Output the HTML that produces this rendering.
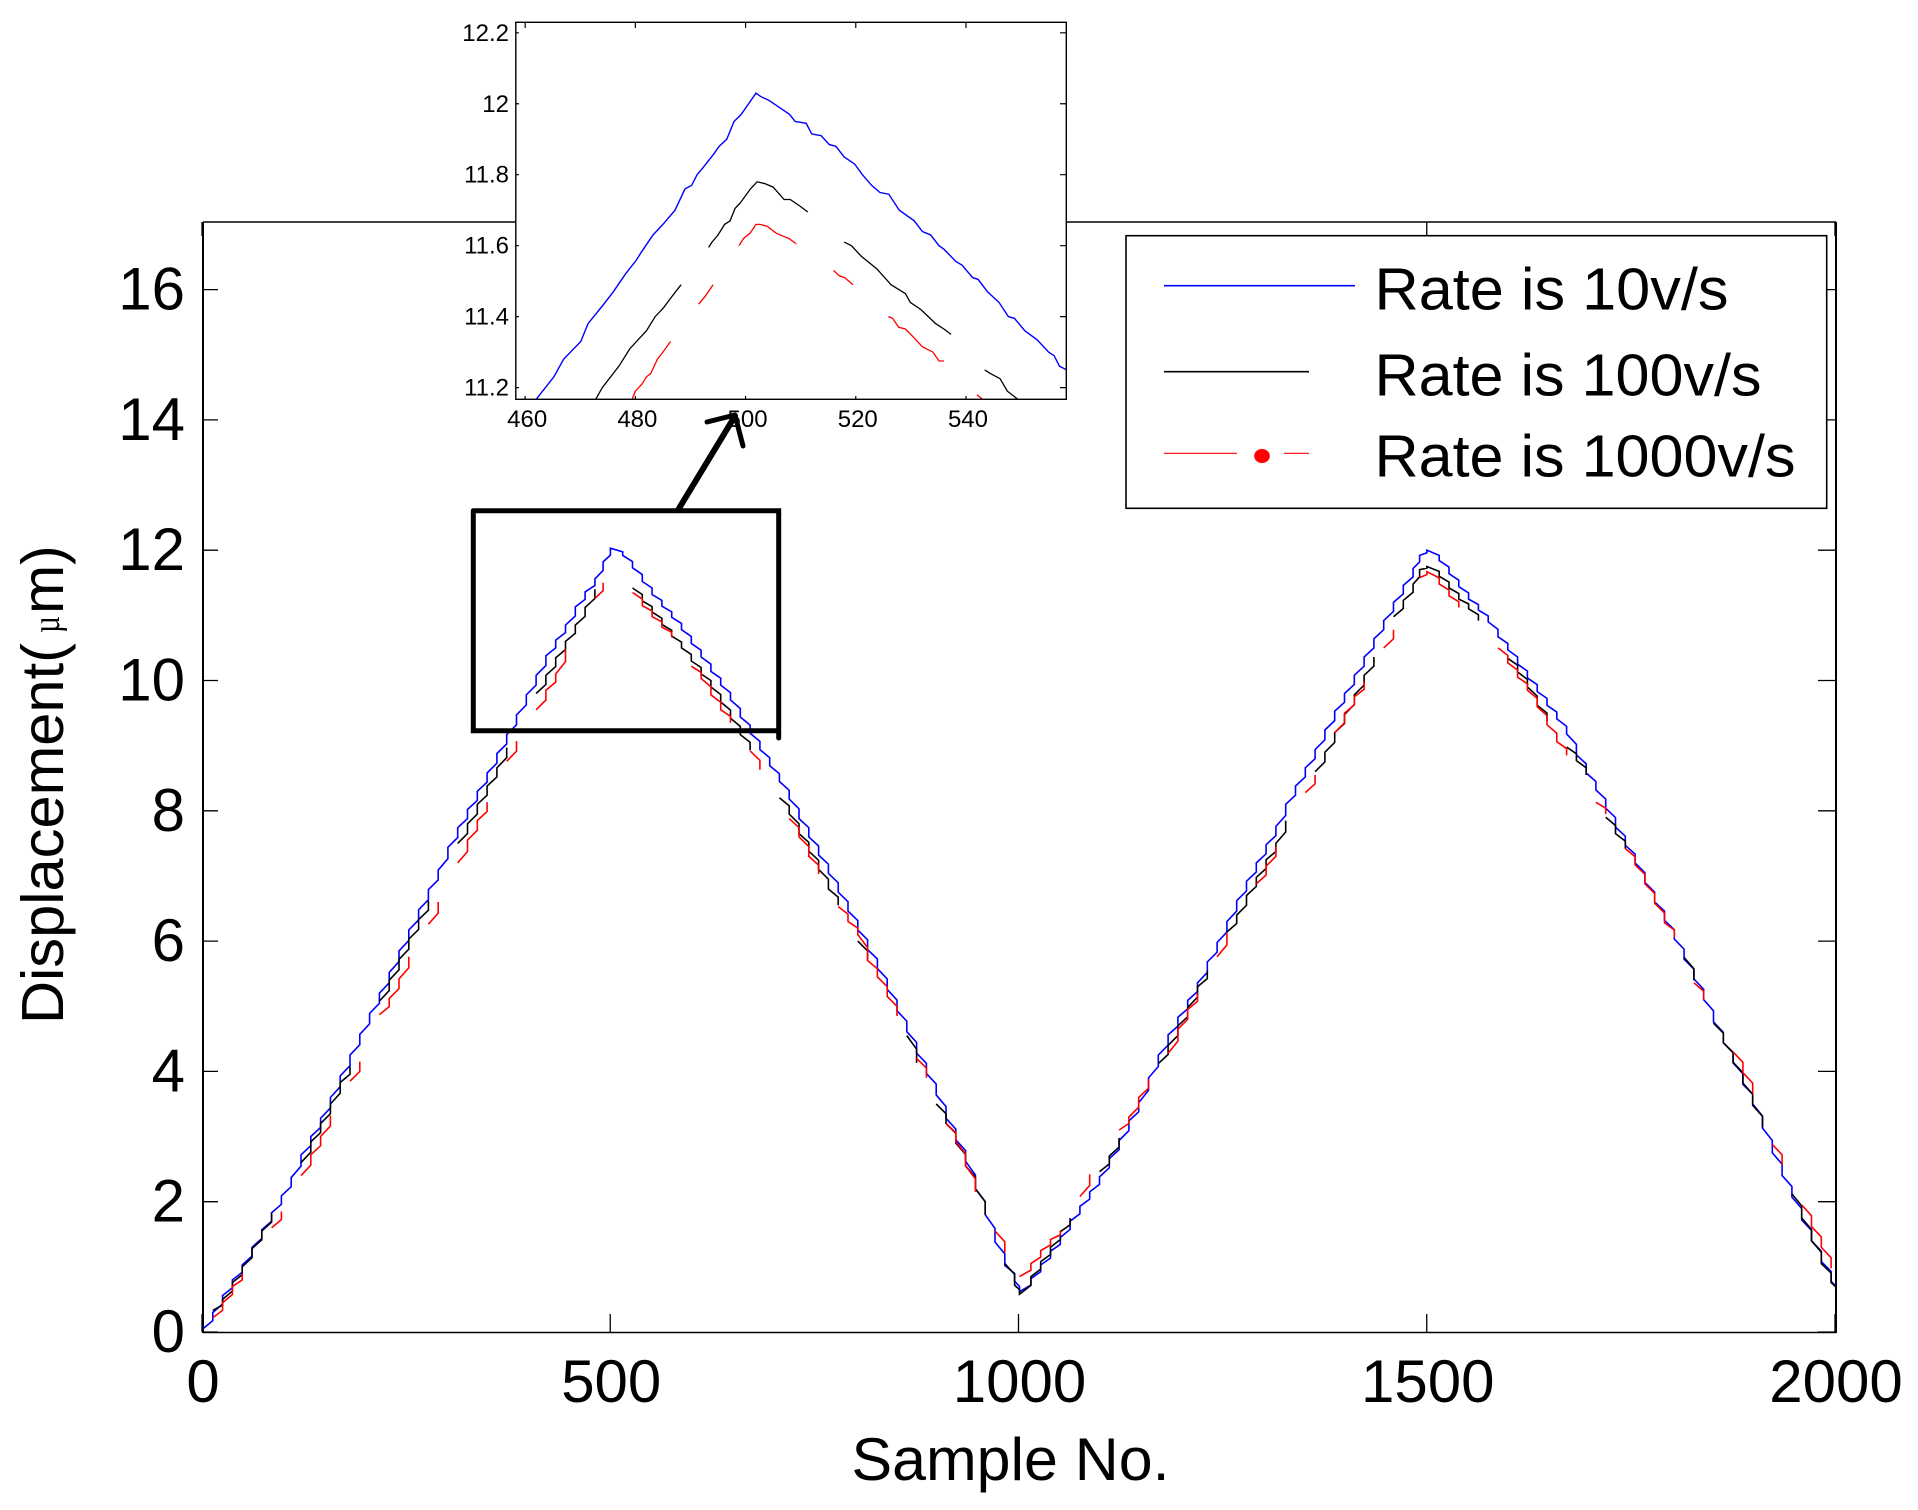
<!DOCTYPE html>
<html lang="en">
<head>
<meta charset="utf-8">
<title>Displacement vs Sample No.</title>
<style>
html,body{margin:0;padding:0;background:#fff;}
svg{display:block;}
text{font-family:"Liberation Sans",sans-serif;fill:#000;}
</style>
</head>
<body>
<svg id="chart" xmlns="http://www.w3.org/2000/svg" width="1918" height="1510" viewBox="0 0 1918 1510">
  <defs>
    <clipPath id="main-clip"><rect x="203" y="222" width="1633" height="1111"/></clipPath>
    <clipPath id="inset-clip"><rect x="515.8" y="22.3" width="551" height="377"/></clipPath>
  </defs>
  <rect x="0" y="0" width="1918" height="1510" fill="#fff"/>
  <g id="main-axes"></g>
  <g id="main-series" clip-path="url(#main-clip)"></g>
  <path d="M473.3 510.7H778.7V738M473.3 510.7V730.7H778.7" fill="none" stroke="#000" stroke-width="5" stroke-linecap="round"/>
  <text x="851.5" y="1480" font-size="60" textLength="318" lengthAdjust="spacingAndGlyphs">Sample No.</text>
  <text transform="translate(63,1024) rotate(-90)" font-size="59"><tspan x="0" y="0" textLength="381" lengthAdjust="spacingAndGlyphs">Displacement(</tspan><tspan x="391" y="-4" font-size="38" textLength="17" lengthAdjust="spacingAndGlyphs" style="font-family:'Liberation Serif',serif">µ</tspan><tspan x="410" y="0">m</tspan><tspan x="459" y="0">)</tspan></text>

  <g id="inset">
    <rect x="515.8" y="22.3" width="550.5" height="377" fill="#fff"/>
    <g id="inset-series" clip-path="url(#inset-clip)"></g>
    <g id="inset-axes"></g>
  </g>

  <g>
    <rect x="1126" y="235.7" width="700.7" height="272.6" fill="#fff" stroke="#000" stroke-width="1.6"/>
    <line x1="1164" y1="285.7" x2="1355" y2="285.7" stroke="#0000ff" stroke-width="1.6"/>
    <text x="1374.5" y="309.3" font-size="59" textLength="354" lengthAdjust="spacingAndGlyphs">Rate is 10v/s</text>
    <line x1="1164" y1="371.7" x2="1309" y2="371.7" stroke="#000" stroke-width="1.6"/>
    <text x="1374.5" y="395.7" font-size="59" textLength="387" lengthAdjust="spacingAndGlyphs">Rate is 100v/s</text>
    <line x1="1164" y1="453.3" x2="1237" y2="453.3" stroke="#ff0000" stroke-width="1.2"/>
    <ellipse cx="1262" cy="456" rx="7.8" ry="7" fill="#ff0000"/>
    <line x1="1284" y1="453.3" x2="1309" y2="453.3" stroke="#ff0000" stroke-width="1.2"/>
    <text x="1374.5" y="476.7" font-size="59" textLength="421" lengthAdjust="spacingAndGlyphs">Rate is 1000v/s</text>
  </g>

  <g fill="none" stroke="#000" stroke-linecap="round" stroke-linejoin="round">
    <line x1="678" y1="510" x2="735" y2="416" stroke-width="6"/>
    <path d="M707 422L735 415L743 446" stroke-width="5"/>
  </g>
</svg>

<script>
/* Main chart data */
const sampleNo = [
  0,12,24,36,48,60, 72,84,96,108,120,132, 144,156,168,180,192,204, 216,228,240,252,264,276, 288,300,312,324,336,348, 360,372,384,396,408,420, 432,444,456,468,480,490,
  499,514,526,538,550,562, 574,586,598,610,622,634, 646,658,670,682,694,706, 718,730,742,754,766,778, 790,802,814,826,838,850, 862,874,886,898,910,922, 934,946,958,970,982,994,
  1000,1014,1026,1038,1050,1062, 1074,1086,1098,1110,1122,1134, 1146,1158,1170,1182,1194,1206, 1218,1230,1242,1254,1266,1278, 1290,1302,1314,1326,1338,1350, 1362,1374,1386,1398,1410,1422, 1434,1446,1458,1470,1482,1490,
  1499,1514,1526,1538,1550,1562, 1574,1586,1598,1610,1622,1634, 1646,1658,1670,1682,1694,1706, 1718,1730,1742,1754,1766,1778, 1790,1802,1814,1826,1838,1850, 1862,1874,1886,1898,1910,1922, 1934,1946,1958,1970,1982,1994,
  2000
];
const rate10 = [
  0.05,0.3,0.56,0.8,1.03,1.3, 1.57,1.83,2.09,2.37,2.72,3.0, 3.28,3.6,3.93,4.25,4.57,4.89, 5.2,5.52,5.85,6.17,6.48,6.79, 7.09,7.44,7.74,8.02,8.3,8.58, 8.88,9.17,9.47,9.78,10.08,10.38, 10.62,10.85,11.13,11.36,11.56,11.82,
  12.03,11.92,11.73,11.52,11.32,11.14, 10.97,10.78,10.57,10.36,10.14,9.93, 9.7,9.44,9.19,8.94,8.69,8.45, 8.18,7.88,7.6,7.32,7.04,6.75, 6.46,6.17,5.87,5.58,5.26,4.93, 4.61,4.28,3.97,3.64,3.28,2.95, 2.62,2.2,1.8,1.38,1.02,0.78,
  0.62,0.82,1.03,1.24,1.45,1.7, 1.93,2.15,2.38,2.66,2.94,3.24, 3.52,3.9,4.25,4.56,4.83,5.09, 5.36,5.68,5.98,6.3,6.62,6.92, 7.2,7.48,7.76,8.1,8.38,8.66, 8.94,9.24,9.53,9.8,10.08,10.36, 10.64,10.92,11.2,11.46,11.72,11.92,
  12.0,11.84,11.64,11.44,11.25,11.08, 10.9,10.67,10.47,10.25,10.04,9.83, 9.62,9.41,9.18,8.86,8.58,8.32, 8.04,7.75,7.47,7.2,6.9,6.6, 6.32,6.03,5.72,5.42,5.1,4.76, 4.44,4.13,3.8,3.5,3.13,2.75, 2.4,2.07,1.72,1.4,1.08,0.78,
  0.62
];
const rate100 = [
  null,0.33,0.5,0.76,1.0,1.28, 1.55,1.82,null,null,2.6,2.92, 3.2,3.5,3.83,4.08,null,null, 5.08,5.4,5.72,6.03,6.33,6.62, null,null,7.5,7.8,8.1,8.38, 8.66,8.97,null,null,9.8,10.08, 10.35,10.6,10.85,11.12,11.4,null,
  null,null,11.42,11.22,11.05,10.86, 10.68,10.5,10.3,10.1,9.9,9.67, 9.42,9.17,8.93,null,null,8.2, 7.95,7.65,7.38,7.1,6.8,6.55, null,6.0,5.7,null,null,null, 4.55,4.13,null,3.5,3.2,2.9, 2.55,2.2,1.8,null,1.05,0.72,
  0.58,0.85,1.08,1.3,1.54,1.75, null,null,2.46,2.7,2.98,null, null,null,4.12,4.4,4.7,4.98, 5.3,5.55,null,6.14,6.4,6.7, 6.98,7.25,7.5,7.85,null,null, 8.6,8.9,9.2,9.48,9.78,10.08, 10.36,null,10.98,11.23,11.48,11.7,
  11.75,11.6,11.42,11.25,11.1,10.92, null,null,10.34,10.13,9.9,9.62, 9.38,null,8.98,8.77,8.55,null, 7.9,7.65,7.42,null,null,null, null,null,5.75,5.4,null,4.74, 4.44,4.14,3.82,3.48,3.14,null, null,2.12,1.75,1.4,1.05,0.76,
  0.62
];
const rate1000 = [
  null,0.22,0.45,0.7,0.9,null, null,1.6,1.85,null,2.4,2.72, 3.0,3.32,null,3.85,4.15,null, 4.87,5.12,5.42,5.76,null,6.26, 6.6,null,7.2,7.55,7.85,8.13, null,8.76,9.07,null,9.55,9.85, 10.1,10.48,null,null,11.26,11.5,
  null,null,11.35,11.15,10.98,10.82, 10.66,null,10.22,10.03,9.78,9.55, 9.35,null,8.92,8.63,null,null, 7.88,7.6,7.3,7.03,null,6.53, 6.3,6.1,5.7,5.45,5.15,4.85, null,4.2,3.9,null,3.2,2.92, 2.55,2.15,null,1.55,1.22,null,
  0.85,1.05,1.25,1.42,1.56,null, 2.08,2.42,null,null,3.1,3.3, 3.6,3.88,null,4.28,4.65,4.95, 5.2,null,5.76,6.12,null,null, 6.88,7.15,7.45,null,null,8.28, 8.55,null,9.2,9.5,9.75,9.98, null,10.5,10.78,null,null,11.58,
  11.67,11.48,11.3,11.12,null,null, null,10.5,10.27,10.05,9.85,9.6, 9.32,9.06,8.85,null,null,8.13, 7.95,null,7.42,7.17,6.88,6.58, 6.28,6.06,null,5.36,5.1,null, null,4.3,3.98,3.66,null,2.88, 2.56,null,1.95,1.62,1.3,0.98,
  null
];
const xTickLabels = [0,500,1000,1500,2000];
const yTickLabels = [0,2,4,6,8,10,12,14,16];

/* Inset chart data */
const insetXTicks = [460,480,500,520,540];
const insetYTicks = [11.2,11.4,11.6,11.8,12,12.2];
const insetBlueSamples = [462,465.2,467,470.1,471.4,474,476,478.2,480.2,481,483.2,485,487.2,489,490.2,491.2,492.3,494.3,495.2,496.6,497.9,499.2,501.9,502.8,504.2,508,509,511,512,513.7,515.2,516.4,517.9,519.8,521.2,522.9,524.4,526,527.9,530.6,532.1,533.6,535.1,536,538.2,539.3,541.2,542.2,543.9,546,547.7,548.8,550.7,552.9,555,556,557,558.3];
const insetBlueValues = [11.167,11.23,11.28,11.33,11.38,11.43,11.47,11.52,11.56,11.58,11.63,11.66,11.7,11.76,11.77,11.8,11.82,11.86,11.88,11.9,11.95,11.97,12.03,12.02,12.01,11.97,11.95,11.945,11.915,11.91,11.885,11.88,11.85,11.83,11.8,11.77,11.75,11.745,11.7,11.67,11.64,11.63,11.6,11.59,11.555,11.545,11.51,11.505,11.47,11.44,11.4,11.395,11.36,11.335,11.3,11.29,11.26,11.25];
const insetBlackSamples = [472.8,474,477,479,482,483.6,485.1,486.3,488.3,null,493.3,493.9,495,496.2,497.2,498.1,499,500.9,502.1,503.5,505,507,508.1,510,511.3,null,517.9,519.2,521,523.8,526.4,529,529.9,531.8,534.5,536,537.3,null,543.4,544.4,546.2,547.5,549.4];
const insetBlackValues = [11.167,11.2,11.26,11.31,11.36,11.4,11.425,11.45,11.49,null,11.595,11.61,11.63,11.66,11.67,11.705,11.72,11.76,11.78,11.775,11.765,11.73,11.73,11.71,11.695,null,11.61,11.6,11.57,11.535,11.49,11.465,11.44,11.42,11.38,11.365,11.35,null,11.25,11.24,11.225,11.19,11.167];
const insetRedSamples = [479.4,480,481.2,482,482.8,484,485,486.4,null,491.5,492.8,494.1,null,498.8,499.6,500.8,501.9,502.6,503.9,505.6,507.1,507.9,509.2,null,516,517,518,519.5,null,525.9,526.7,527.8,529,530.6,532.1,534,535.1,536,null,542,543];
const insetRedValues = [11.167,11.19,11.21,11.23,11.24,11.28,11.3,11.33,null,11.435,11.46,11.49,null,11.6,11.62,11.635,11.66,11.66,11.655,11.635,11.625,11.62,11.605,null,11.53,11.515,11.51,11.49,null,11.4,11.395,11.37,11.365,11.34,11.315,11.3,11.275,11.275,null,11.18,11.167];

const SVG_NS = 'http://www.w3.org/2000/svg';
const xMain = s => 203 + 0.8165 * s;
const yMain = v => 1332 - 65.15 * v;
const xInset = s => 515.8 + (s - 458.3) * 5.51;
const yInset = v => 399.3 - (v - 11.167) * 354.8;

function svgEl(tag, attrs, parent) {
  const el = document.createElementNS(SVG_NS, tag);
  Object.keys(attrs).forEach(k => el.setAttribute(k, attrs[k]));
  parent.appendChild(el);
  return el;
}

function stairPath(xs, ys, xf, yf) {
  let d = '';
  let prev = null;
  for (let i = 0; i < xs.length; i++) {
    if (ys[i] === null || xs[i] === null) { prev = null; continue; }
    const px = xf(xs[i]), py = yf(ys[i]);
    if (prev === null) {
      d += 'M' + px.toFixed(1) + ' ' + py.toFixed(1);
    } else {
      const mid = prev[1] + 0.5 * (py - prev[1]);
      d += 'L' + px.toFixed(1) + ' ' + mid.toFixed(1) + 'L' + px.toFixed(1) + ' ' + py.toFixed(1);
    }
    prev = [px, py];
  }
  return d;
}

function linePath(xs, ys, xf, yf) {
  let d = '';
  let pen = false;
  for (let i = 0; i < xs.length; i++) {
    if (ys[i] === null || xs[i] === null) { pen = false; continue; }
    d += (pen ? 'L' : 'M') + xf(xs[i]).toFixed(1) + ' ' + yf(ys[i]).toFixed(1);
    pen = true;
  }
  return d;
}

/* main axes */
const axes = document.getElementById('main-axes');
const frame = svgEl('path', {d:'M203 222H1836M203 1332.5H1836', fill:'none', stroke:'#000', 'stroke-width':'1.6'}, axes);


const sides = svgEl('path', {d:'M203 222V1333M1836 222V1333', fill:'none', stroke:'#000', 'stroke-width':'2'}, axes);



xTickLabels.forEach(t => {
  const x = xMain(t);
  const tick = svgEl('path', {d:'M' + (x - 1) + ' 1332V1314M' + (x - 1) + ' 222V236', fill:'none', stroke:'#000', 'stroke-width':'1.3'}, axes);
  
  
  const label = svgEl('text', {x:x, y:1402, 'font-size':'60', 'text-anchor':'middle'}, axes);
  
  
  label.textContent = String(t);
});
yTickLabels.forEach(t => {
  const y = yMain(t);
  const tick = svgEl('path', {d:'M203 ' + y + 'H218M1836 ' + y + 'H1818', fill:'none', stroke:'#000', 'stroke-width':'1.3'}, axes);
  
  
  const label = svgEl('text', {x:185, y:y + 20, 'font-size':'60', 'text-anchor':'end'}, axes);
  
  
  label.textContent = String(t);
});

/* main series */
const seriesGroup = document.getElementById('main-series');
const blueLine = svgEl('path', {d:stairPath(sampleNo, rate10, xMain, yMain), fill:'none', stroke:'#0000ff', 'stroke-width':'1.6'}, seriesGroup);


const blackLine = svgEl('path', {d:stairPath(sampleNo, rate100, xMain, yMain), fill:'none', stroke:'#000', 'stroke-width':'1.6'}, seriesGroup);


const redLine = svgEl('path', {d:stairPath(sampleNo, rate1000, xMain, yMain), fill:'none', stroke:'#ff0000', 'stroke-width':'1.6'}, seriesGroup);



/* inset */
const insetSeries = document.getElementById('inset-series');
const insetBlue = svgEl('path', {d:linePath(insetBlueSamples, insetBlueValues, xInset, yInset), fill:'none', stroke:'#0000ff', 'stroke-width':'1.4'}, insetSeries);


const insetBlack = svgEl('path', {d:linePath(insetBlackSamples, insetBlackValues, xInset, yInset), fill:'none', stroke:'#000', 'stroke-width':'1.3'}, insetSeries);


const insetRed = svgEl('path', {d:linePath(insetRedSamples, insetRedValues, xInset, yInset), fill:'none', stroke:'#ff0000', 'stroke-width':'1.3'}, insetSeries);



const insetAxes = document.getElementById('inset-axes');
const insetFrame = svgEl('rect', {x:515.8, y:22.3, width:550.5, height:377, fill:'none', stroke:'#000', 'stroke-width':'1.4'}, insetAxes);


insetXTicks.forEach(t => {
  const x = xInset(t);
  const tick = svgEl('path', {d:'M' + x + ' 399V396M' + x + ' 22V28', fill:'none', stroke:'#000', 'stroke-width':'1.2'}, insetAxes);
  
  
  const label = svgEl('text', {x:x + 2, y:427, 'font-size':'24', 'text-anchor':'middle'}, insetAxes);
  
  
  label.textContent = String(t);
});
insetYTicks.forEach(t => {
  const y = yInset(t);
  const tick = svgEl('path', {d:'M516 ' + y + 'H519M1066 ' + y + 'H1060', fill:'none', stroke:'#000', 'stroke-width':'1.2'}, insetAxes);
  
  
  const label = svgEl('text', {x:509, y:y + 8, 'font-size':'24', 'text-anchor':'end'}, insetAxes);
  
  
  label.textContent = String(t);
});
</script>
</body>
</html>
